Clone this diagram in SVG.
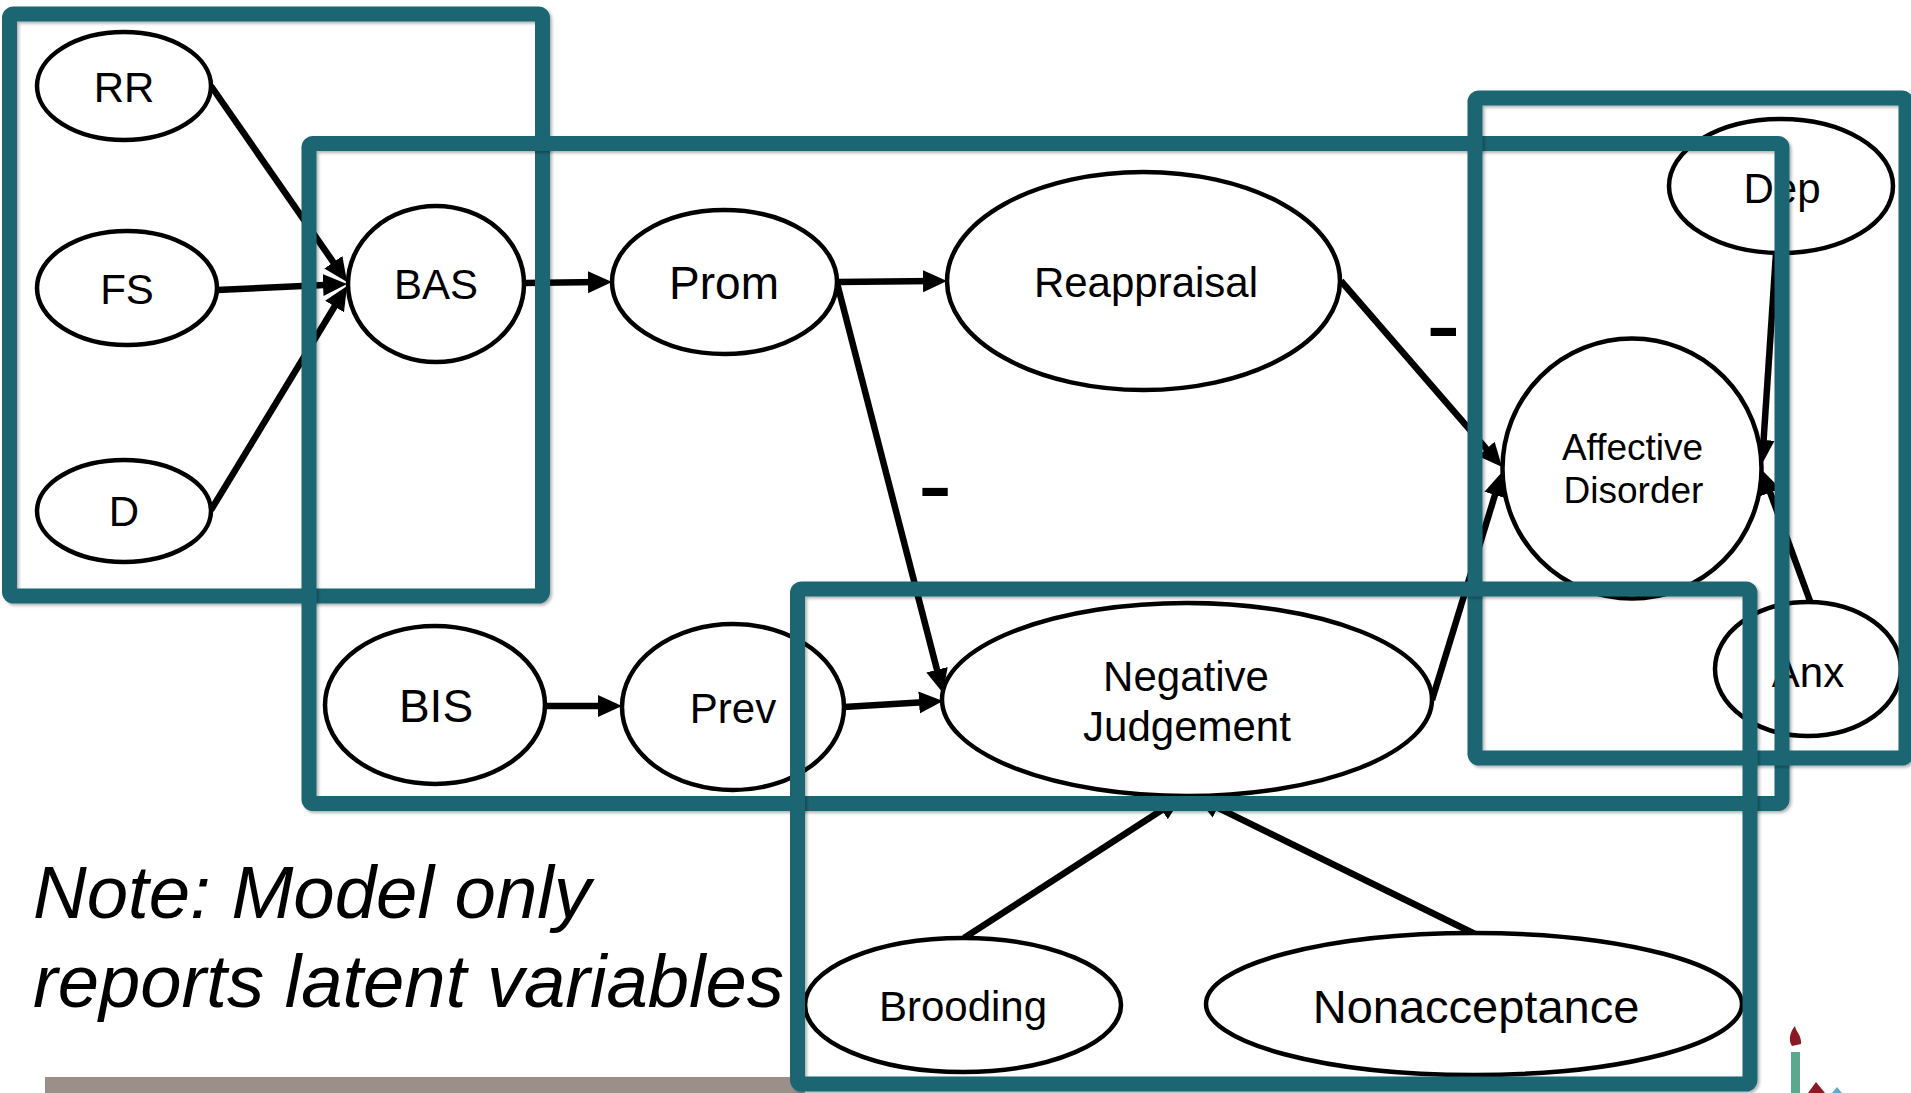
<svg xmlns="http://www.w3.org/2000/svg" width="1911" height="1093" viewBox="0 0 1911 1093">
  <defs>
    <style>
      .node ellipse { fill: #ffffff; stroke: #000000; stroke-width: 4.5; }
      .lbl { font-family: "Liberation Sans", Arial, sans-serif; fill: #000000; text-anchor: middle; }
      .edge { stroke: #000000; stroke-width: 6.5; fill: none; marker-end: url(#head); }
      .frame { fill: none; stroke: #1c6673; stroke-width: 15; filter: url(#shade); }
      .sign { font-family: "Liberation Sans", Arial, sans-serif; font-size: 104px; fill: #000000; text-anchor: middle; }
      .note { font-family: "Liberation Sans", Arial, sans-serif; font-style: italic; font-size: 74px; fill: #000000; }
    </style>
    <marker id="head" markerUnits="userSpaceOnUse" markerWidth="24" markerHeight="24" viewBox="0 0 24 24" refX="12" refY="12" orient="auto">
      <path d="M0,1 L24,12 L0,23 Z" fill="#000000"/>
    </marker>
    <filter id="shade" x="-5%" y="-5%" width="110%" height="110%">
      <feDropShadow dx="2" dy="2" stdDeviation="1.5" flood-color="#000000" flood-opacity="0.3"/>
    </filter>
  </defs>

  <rect x="0" y="0" width="1911" height="1093" fill="#ffffff"/>

  <!-- footer band -->
  <rect x="45" y="1077" width="760" height="16" fill="#9a8f89"/>

  <!-- corner emblem -->
  <g id="emblem">
    <rect x="1791" y="1052" width="9" height="41" fill="#5aa88e"/>
    <path d="M1792,1046 C1788,1040 1790,1032 1795,1026 C1796,1032 1802,1036 1801,1044 Z" fill="#8b1a24"/>
    <path d="M1808,1093 L1816,1082 L1825,1093 Z" fill="#8b1a24"/>
    <path d="M1832,1093 L1837,1087 L1842,1093 Z" fill="#5fa9c9"/>
  </g>

  <!-- connectors -->
  <g id="connectors">
    <line class="edge" x1="211" y1="86" x2="340.2" y2="272.1"/>
    <line class="edge" x1="217" y1="290" x2="335" y2="284.5"/>
    <line class="edge" x1="211" y1="510" x2="340.8" y2="296.3"/>
    <line class="edge" x1="524" y1="283" x2="600" y2="282.1"/>
    <line class="edge" x1="837" y1="282" x2="935" y2="281.1"/>
    <line class="edge" x1="837" y1="283" x2="940" y2="681.4"/>
    <line class="edge" x1="546" y1="706" x2="610" y2="706"/>
    <line class="edge" x1="844" y1="707" x2="931" y2="701.7"/>
    <line class="edge" x1="1341" y1="281" x2="1494.2" y2="457.9"/>
    <line class="edge" x1="1432" y1="700" x2="1498.5" y2="483.5"/>
    <line class="edge" x1="1776" y1="253" x2="1762.8" y2="452"/>
    <line class="edge" x1="1810" y1="601" x2="1766.1" y2="481.3"/>
    <line class="edge" x1="964" y1="938" x2="1171.9" y2="803.5"/>
    <line class="edge" x1="1475" y1="934" x2="1206.8" y2="802.3"/>
    <text class="sign" x="935" y="519.7">-</text>
    <text class="sign" x="1443.4" y="359.7">-</text>
  </g>

  <!-- nodes -->
  <g id="RR" class="node">
    <ellipse cx="124" cy="86" rx="87" ry="54"/>
    <text class="lbl" x="124" y="102" font-size="42">RR</text>
  </g>
  <g id="FS" class="node">
    <ellipse cx="127" cy="288" rx="90" ry="57"/>
    <text class="lbl" x="127" y="304" font-size="42">FS</text>
  </g>
  <g id="D" class="node">
    <ellipse cx="124" cy="511" rx="87" ry="51"/>
    <text class="lbl" x="124" y="526" font-size="42">D</text>
  </g>
  <g id="BAS" class="node">
    <ellipse cx="436" cy="284" rx="88" ry="78"/>
    <text class="lbl" x="436" y="299" font-size="42">BAS</text>
  </g>
  <g id="Prom" class="node">
    <ellipse cx="724.5" cy="282" rx="112.5" ry="72"/>
    <text class="lbl" x="724" y="299" font-size="46">Prom</text>
  </g>
  <g id="Reappraisal" class="node">
    <ellipse cx="1143.5" cy="281" rx="196.5" ry="109"/>
    <text class="lbl" x="1146" y="297" font-size="42">Reappraisal</text>
  </g>
  <g id="BIS" class="node">
    <ellipse cx="435" cy="705" rx="110" ry="79"/>
    <text class="lbl" x="436" y="722" font-size="46">BIS</text>
  </g>
  <g id="Prev" class="node">
    <ellipse cx="733" cy="707" rx="111" ry="83"/>
    <text class="lbl" x="733" y="723" font-size="42">Prev</text>
  </g>
  <g id="NegativeJudgement" class="node">
    <ellipse cx="1187" cy="699.5" rx="245" ry="96.5"/>
    <text class="lbl" x="1186" y="691" font-size="42">Negative</text>
    <text class="lbl" x="1187" y="741" font-size="42">Judgement</text>
  </g>
  <g id="AffectiveDisorder" class="node">
    <ellipse cx="1632" cy="468.5" rx="129.5" ry="130"/>
    <text class="lbl" x="1632.5" y="459.5" font-size="37">Affective</text>
    <text class="lbl" x="1633.5" y="503" font-size="37">Disorder</text>
  </g>
  <g id="Dep" class="node">
    <ellipse cx="1781" cy="186" rx="112" ry="67"/>
    <text class="lbl" x="1782" y="203" font-size="42">Dep</text>
  </g>
  <g id="Anx" class="node">
    <ellipse cx="1808" cy="669" rx="93" ry="67"/>
    <text class="lbl" x="1808" y="687" font-size="42">Anx</text>
  </g>
  <g id="Brooding" class="node">
    <ellipse cx="963" cy="1005" rx="158" ry="67"/>
    <text class="lbl" x="963" y="1021" font-size="42">Brooding</text>
  </g>
  <g id="Nonacceptance" class="node">
    <ellipse cx="1474" cy="1004" rx="268" ry="71"/>
    <text class="lbl" x="1476" y="1023" font-size="47">Nonacceptance</text>
  </g>

  <!-- grouping frames -->
  <g id="frames">
    <rect class="frame" x="9.5" y="14" width="533" height="582" rx="4"/>
    <rect class="frame" x="309" y="143.5" width="1473" height="660" rx="4"/>
    <rect class="frame" x="1475" y="98" width="431" height="660" rx="4"/>
    <rect class="frame" x="797.5" y="589" width="952.5" height="495" rx="4"/>
  </g>

  <!-- footnote -->
  <g id="note">
    <text class="note" x="33" y="918" textLength="558" lengthAdjust="spacingAndGlyphs">Note: Model only</text>
    <text class="note" x="33" y="1007" textLength="751" lengthAdjust="spacingAndGlyphs">reports latent variables</text>
  </g>
</svg>
